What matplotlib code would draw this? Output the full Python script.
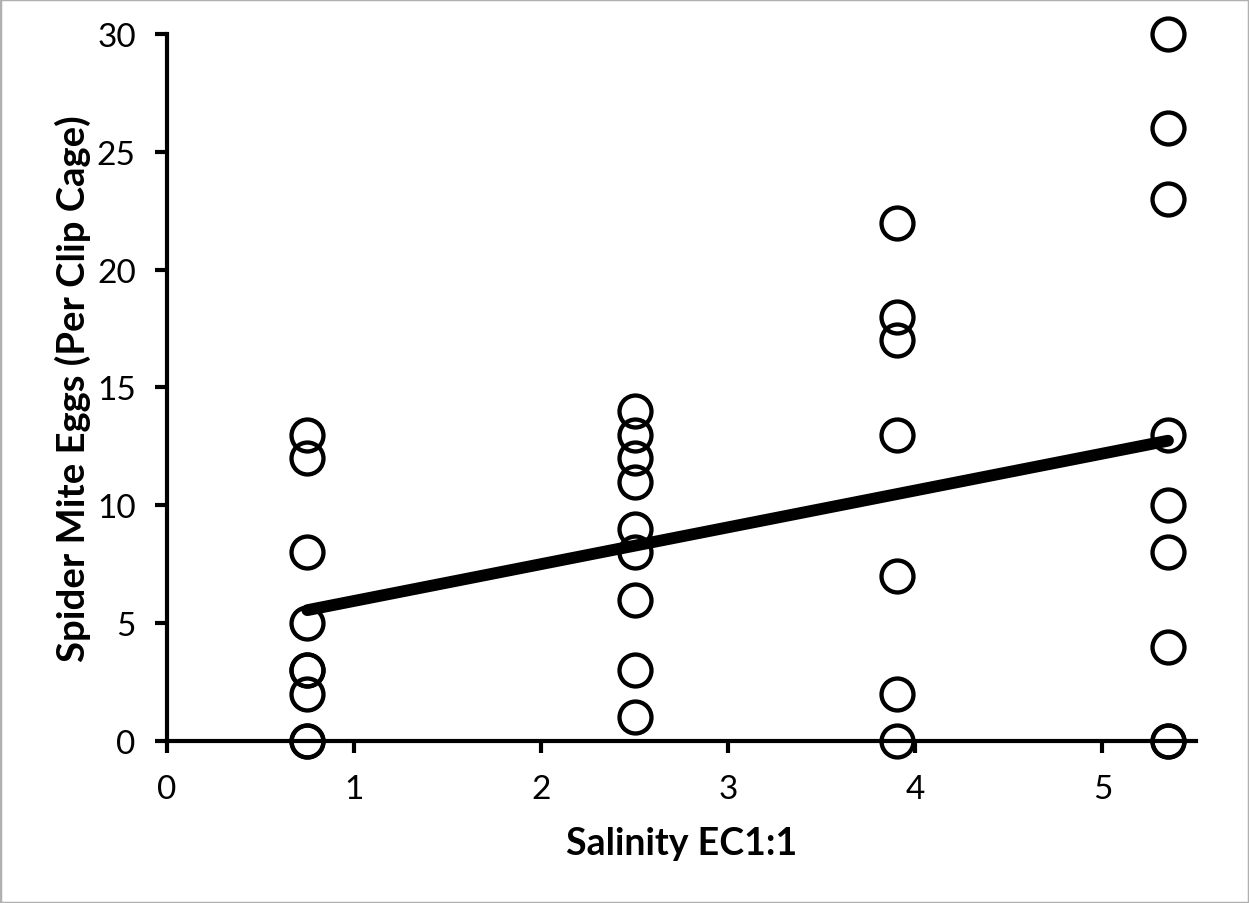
import numpy as np
import matplotlib.pyplot as plt

plt.rcParams['font.family'] = ['Lato', 'DejaVu Sans']

# salinity levels and egg counts per clip cage
sal_levels = [0.75, 2.5, 3.9, 5.35]
eggs_075 = [13, 12, 8, 5, 3, 3, 2, 0, 0]
eggs_250 = [14, 13, 12, 11, 9, 8, 6, 3, 1]
eggs_390 = [22, 18, 17, 13, 7, 2, 0]
eggs_535 = [30, 26, 23, 13, 10, 8, 4, 0, 0]

# linear trend (eggs = slope * EC + intercept)
trend_slope = 1.563
trend_intercept = 4.38

x_ticks = [0, 1, 2, 3, 4, 5]
y_ticks = [0, 5, 10, 15, 20, 25, 30]

groups = [eggs_075, eggs_250, eggs_390, eggs_535]
xs = np.concatenate([[s] * len(g) for s, g in zip(sal_levels, groups)])
ys = np.concatenate(groups)

fig = plt.figure(figsize=(12.49, 9.04), dpi=100)
ax = fig.add_axes([0.1337, 0.1792, 0.8239, 0.7821])

ax.plot(xs, ys, 'o', ms=23, mfc='none', mec='black', mew=3.1, zorder=3,
        clip_on=False)

tx = np.array([sal_levels[0], sal_levels[-1]])
ax.plot(tx, trend_slope * tx + trend_intercept, color='black', lw=8.5,
        solid_capstyle='round', zorder=4)

ax.set_xlim(0, 5.5)
ax.set_ylim(0, 30)
ax.set_xticks(x_ticks)
ax.set_yticks(y_ticks)

for side in ['top', 'right']:
    ax.spines[side].set_visible(False)
for side in ['left', 'bottom']:
    ax.spines[side].set_linewidth(3)
ax.tick_params(direction='out', length=8.5, width=3, labelsize=24)
ax.tick_params(axis='y', pad=14)
ax.tick_params(axis='x', pad=15)

ax.set_xlabel('Salinity EC1:1', fontsize=27, fontweight='bold', labelpad=16)
ax.set_ylabel('Spider Mite Eggs (Per Clip Cage)', fontsize=27.5,
              fontweight='bold', labelpad=4)

# thin grey frame round the whole figure
fig.patches.append(plt.Rectangle((0, 0), 1, 1, transform=fig.transFigure,
                                 fill=False, ec='#b0b0b0', lw=2.5))

fig.savefig('out.png', dpi=100)
